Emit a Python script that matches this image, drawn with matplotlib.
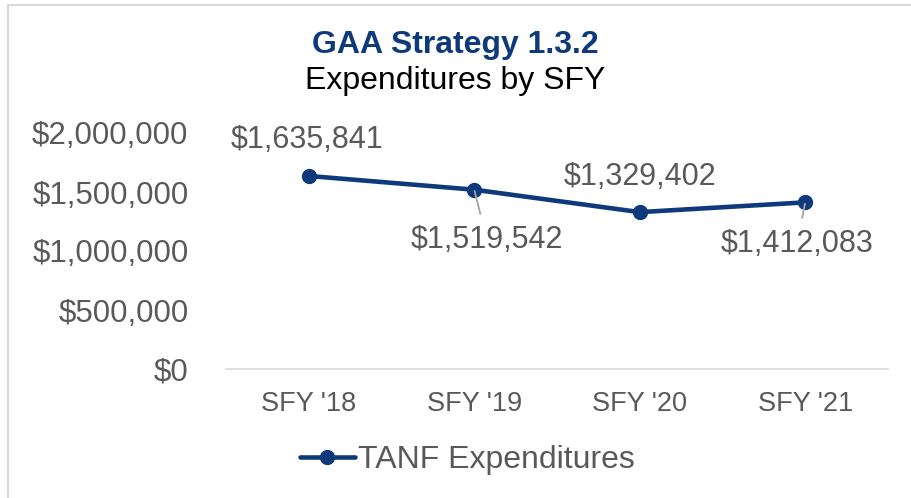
import matplotlib.pyplot as plt
from matplotlib.patches import Rectangle
from matplotlib.ticker import FuncFormatter

plt.rcParams['font.family'] = ['Liberation Sans', 'DejaVu Sans']

years = ["SFY '18", "SFY '19", "SFY '20", "SFY '21"]
spend = [1635841, 1519542, 1329402, 1412083]
series_name = 'TANF Expenditures'

navy = '#0E3A7C'
grey_text = '#595959'

fig = plt.figure(figsize=(9.11, 4.98), dpi=100)
ax = fig.add_axes([226 / 911, 1 - 369 / 498, 662 / 911, 236 / 498])

x = list(range(len(years)))
ax.plot(x, spend, color=navy, lw=3.3, marker='o', ms=10, label=series_name,
        solid_capstyle='round', zorder=3)

ax.set_xlim(-0.5, 3.5)
ax.set_ylim(0, 2000000)
ax.set_yticks([0, 500000, 1000000, 1500000, 2000000])
ax.yaxis.set_major_formatter(FuncFormatter(lambda v, p: f'${v:,.0f}'))
ax.set_xticks(x)
ax.set_xticklabels(years)
ax.tick_params(length=0, labelsize=22.5, colors=grey_text, pad=27)
ax.tick_params(axis='x', labelsize=19.5, pad=16)
for s in ['top', 'right', 'left']:
    ax.spines[s].set_visible(False)
ax.spines['bottom'].set_color('#D9D9D9')
ax.spines['bottom'].set_linewidth(1.2)

# value labels: (dx, dy) in points, plus whether a leader line is drawn
offsets = [(-1, 26, False), (9, -36, True), (0, 25, False), (-6, -30, True)]
for xi, v, (dx, dy, lead) in zip(x, spend, offsets):
    ax.annotate(f'${v:,}', (xi, v), xytext=(dx, dy), textcoords='offset points',
                ha='center', va='center', fontsize=22, color=grey_text,
                arrowprops=dict(arrowstyle='-', color='#A6A6A6', lw=1.3,
                                shrinkA=6, shrinkB=1) if lead else None)

fig.text(0.5, 1 - 45 / 498, 'GAA Strategy 1.3.2', ha='center', va='center',
         fontsize=23, fontweight='bold', color=navy)
fig.text(0.5, 1 - 81 / 498, 'Expenditures by SFY', ha='center', va='center',
         fontsize=23, color='black')

fig.legend(loc='center', bbox_to_anchor=(0.513, 1 - 460 / 498), frameon=False,
           fontsize=23, labelcolor=grey_text, handlelength=1.7, handletextpad=0.1)

fig.patches.append(Rectangle((8 / 911, -0.1), 1.2, 1 - 5 / 498 + 0.1,
                             transform=fig.transFigure, fill=False,
                             edgecolor='#D9D9D9', lw=1.5))

fig.savefig('out.png', dpi=100)
